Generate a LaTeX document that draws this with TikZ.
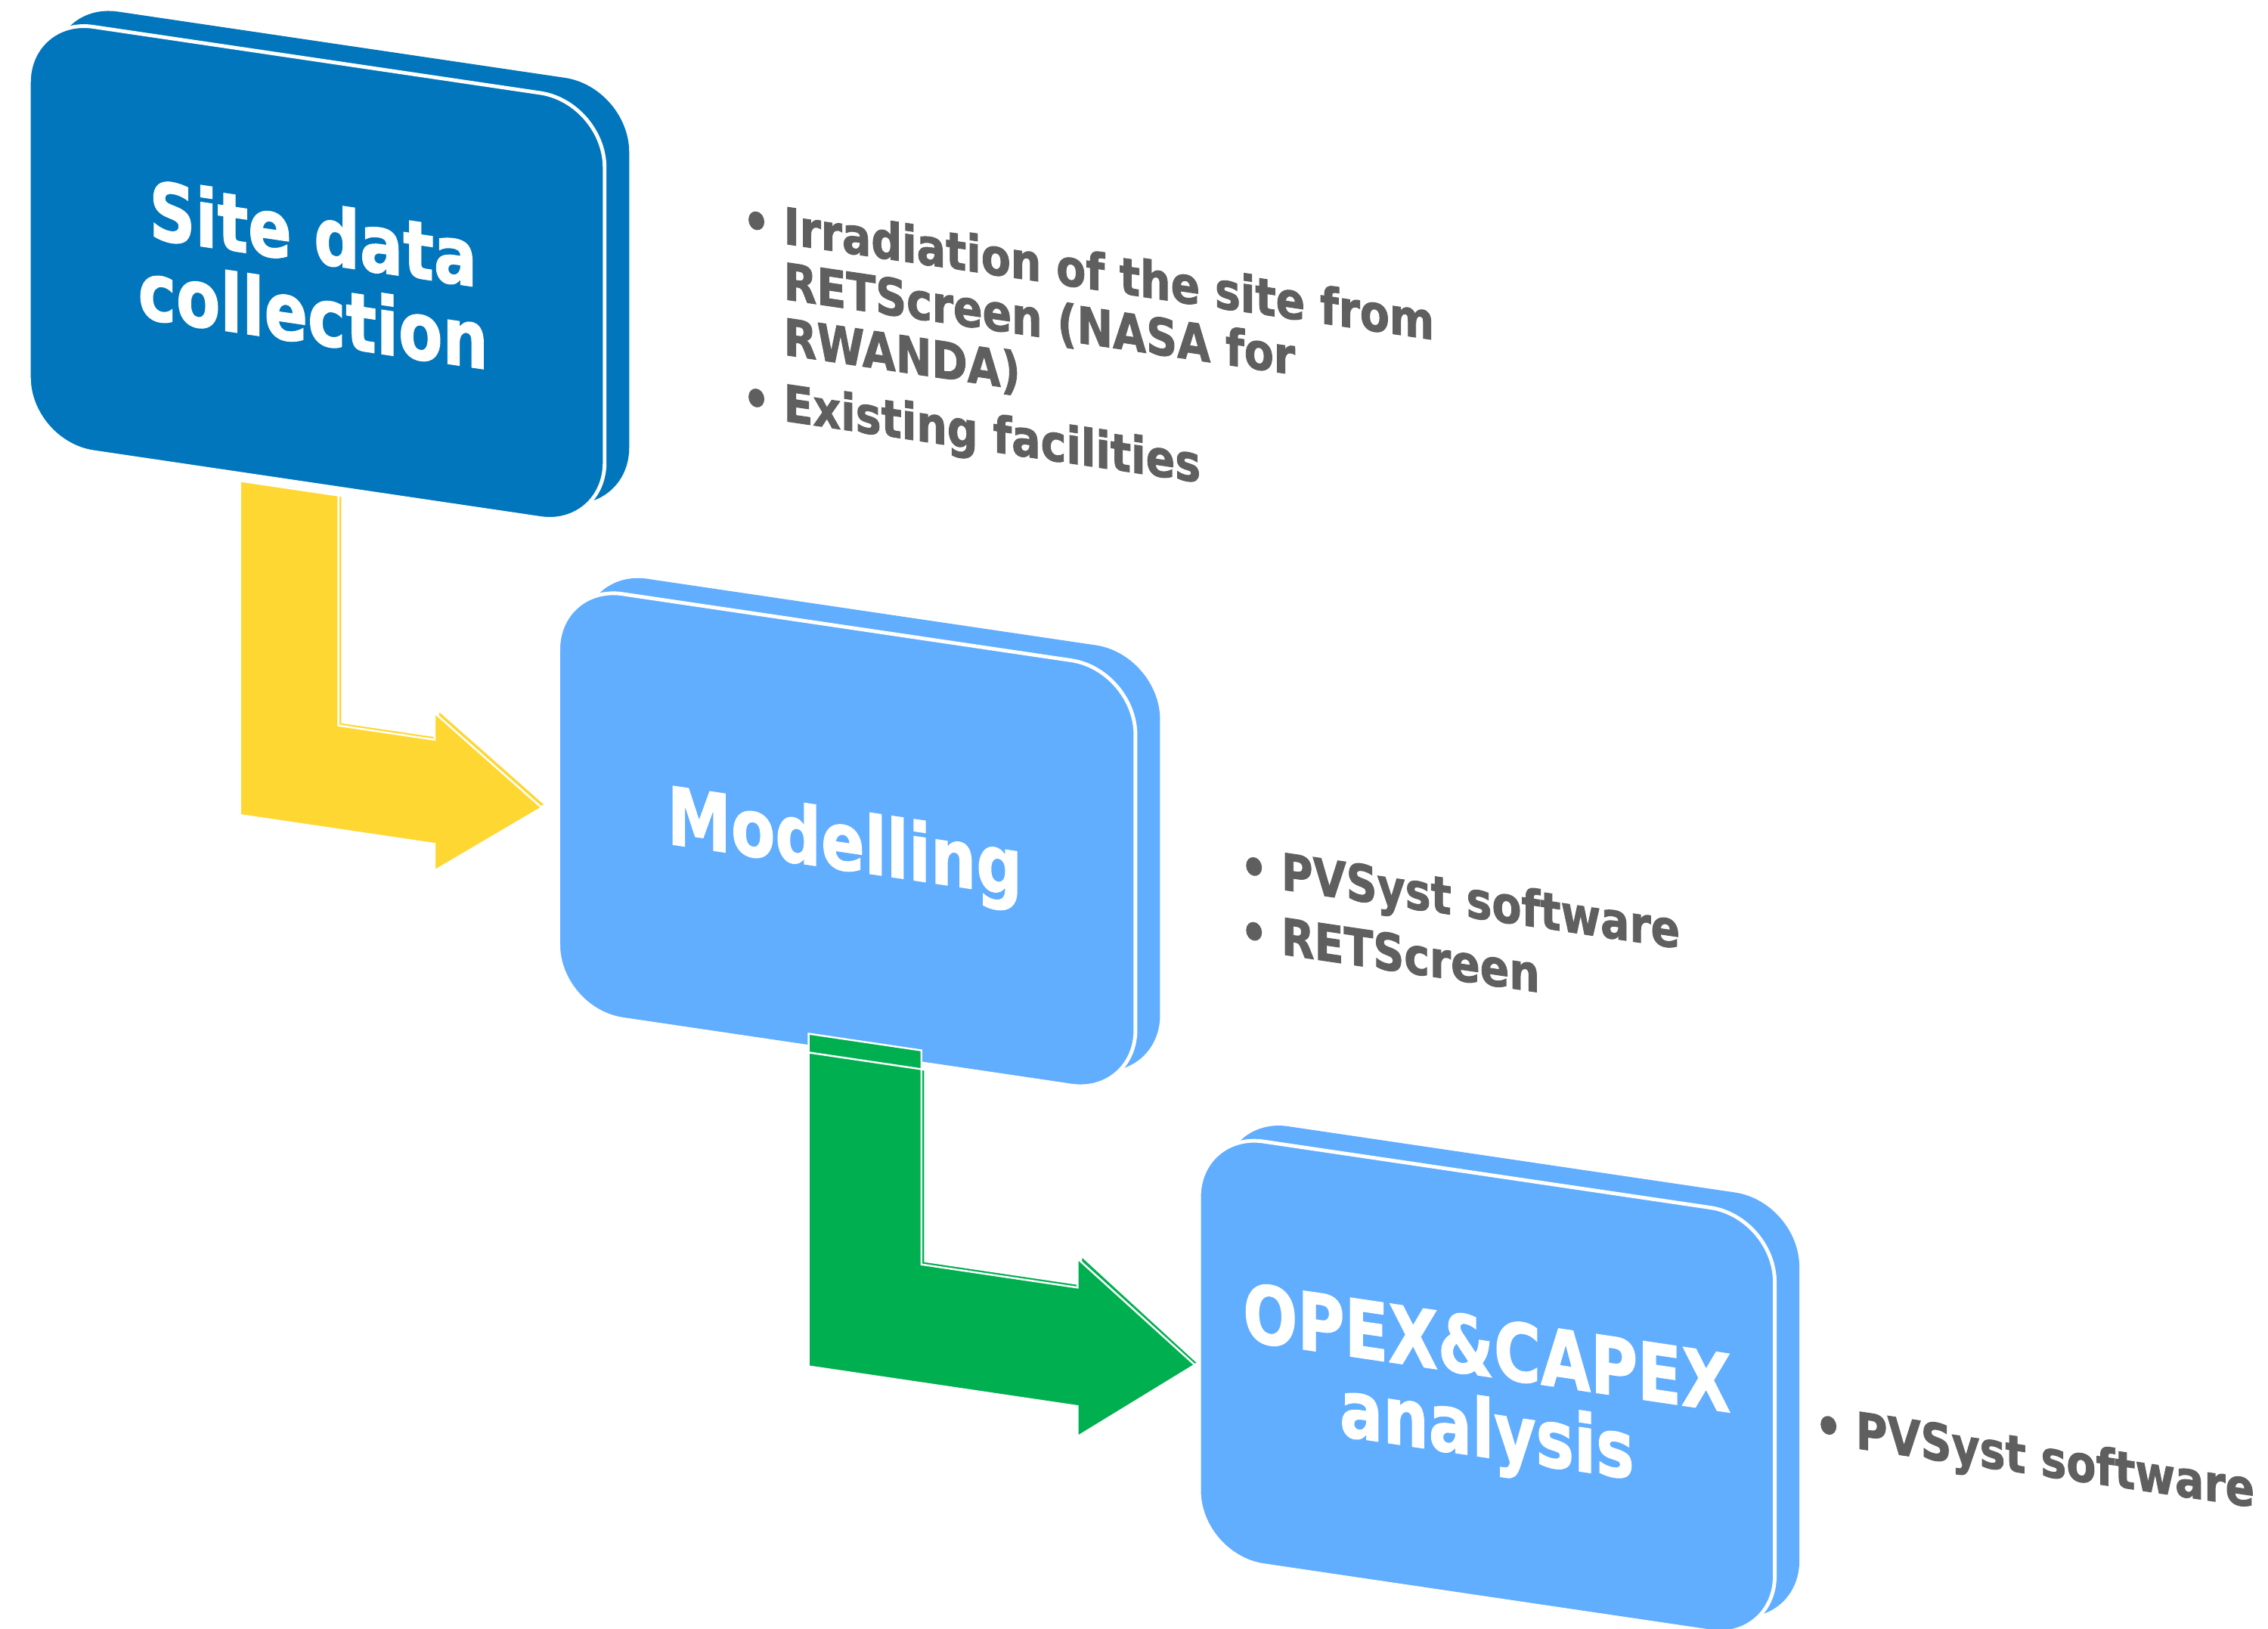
\documentclass[tikz,border=0pt]{standalone}
\usepackage{fontspec}
\setmainfont{DejaVu Sans}[BoldFeatures={FakeBold=1.6}]
\usepackage{tikz}
\definecolor{darkblue}{RGB}{1,118,189}
\definecolor{lightblue}{RGB}{97,173,255}
\definecolor{sunyellow}{RGB}{255,215,51}
\definecolor{leafgreen}{RGB}{0,176,80}
\definecolor{notegray}{RGB}{95,95,95}
\tikzset{
  cardback/.style={fill=#1, rounded corners=0.86cm},
  cardfront/.style={fill=#1, draw=white, line width=1.4pt, rounded corners=0.86cm},
  cardlabel/.style={transform shape, xscale=0.805, text=white, align=center, inner sep=0pt,
    font=\bfseries\fontsize{30}{30.5}\selectfont},
  notetext/.style={transform shape, xscale=0.848, text=notegray, anchor=base west, inner sep=0pt,
    font=\bfseries\fontsize{19.1}{20.9}\selectfont},
  bendarrow/.style={fill=#1, draw=white, line width=0.7pt, line join=miter}
}

\begin{document}
\begin{tikzpicture}[x=0.019133cm, y=-0.019133cm]

	\useasboundingbox (0,0) rectangle (1568,1126);
	\clip (0,0) rectangle (1568,1126);

	\begin{scope}[yslant=-0.148]

		% yellow bent arrow (back, then front)
		\path[bendarrow=sunyellow] (168.5,308) -- (236.5,308) -- (236.5,464.5) -- (303,464.5) -- (303,446) -- (377,500.5) -- (303,555) -- (303,536.5) -- (168.5,536.5) -- cycle;
		\path[bendarrow=sunyellow] (166,308) -- (234,308) -- (234,467) -- (300.5,467) -- (300.5,448.5) -- (374.5,503) -- (300.5,557.5) -- (300.5,539) -- (166,539) -- cycle;

		% the three cards
		\path[cardback=darkblue] (37,-4) rectangle (435,290);
		\path[cardfront=darkblue] (20,9) rectangle (418,303);

		\path[cardback=lightblue] (403,334) rectangle (802,628);
		\path[cardfront=lightblue] (386,347) rectangle (785,641);

		\path[cardback=lightblue] (846,647) rectangle (1244,940);
		\path[cardfront=lightblue] (829,660) rectangle (1227,953);

		% green bent arrow (back, then front)
		\path[bendarrow=leafgreen] (559,632) -- (637,632) -- (637,645) -- (639.5,645) -- (639.5,777.5) -- (747.5,777.5) -- (747.5,757.5) -- (828.5,820) -- (745,862) -- (559,862) -- cycle;
		\path[bendarrow=leafgreen] (559,645) -- (637,645) -- (637,780) -- (745,780) -- (745,760) -- (826,821.5) -- (745,883) -- (745,862) -- (559,862) -- cycle;

		% card labels
		\node[cardlabel] (site) at (216.5,157) {Site data\\collection};
		\node[cardlabel] (model) at (584,500) {Modelling};
		\node[cardlabel] (cost) at (1028,813) {OPEX\&CAPEX\\analysis};

		% notes
		\node[notetext] (siteinfo) at (541.5,88.3) {\begin{tabular}[t]{@{}l@{}}
			\llap{\textbullet\hspace{6pt}}Irradiation of the site from\\
			RETScreen (NASA for\\
			RWANDA)\\[4pt]
			\llap{\textbullet\hspace{6pt}}Existing facilities
		\end{tabular}};
		\node[notetext] (modelinfo) at (885.5,483.9) {\begin{tabular}[t]{@{}l@{}}
			\llap{\textbullet\hspace{6pt}}PVSyst software\\[3.5pt]
			\llap{\textbullet\hspace{6pt}}RETScreen
		\end{tabular}};
		\node[notetext] (costinfo) at (1282.7,811.5) {\begin{tabular}[t]{@{}l@{}}
			\llap{\textbullet\hspace{6pt}}PVSyst software
		\end{tabular}};

	\end{scope}

\end{tikzpicture}
\end{document}
